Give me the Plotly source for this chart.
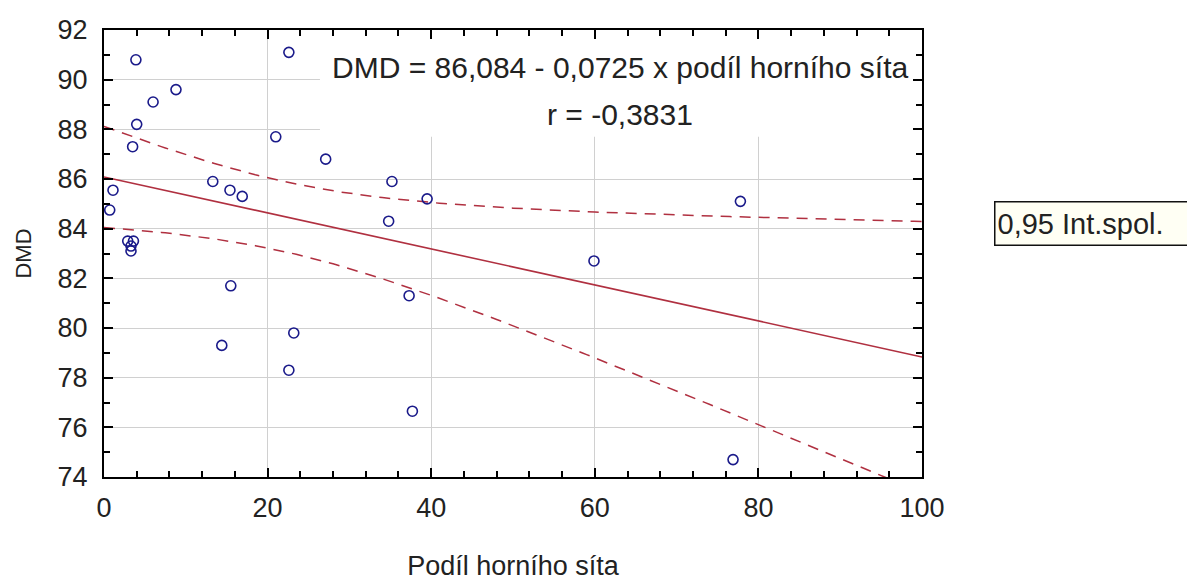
import numpy as np
import plotly.graph_objects as go

# Podíl horního síta (%) and DMD (%) for each sample
podil = [0.7, 1.1, 3.9, 4.0, 3.5, 2.9, 3.6, 3.3, 3.3, 6.0, 8.8, 13.3, 15.4, 16.9,
         15.5, 14.4, 21.0, 22.6, 22.6, 23.2, 27.1, 35.2, 34.8, 39.5, 37.3, 37.7,
         59.9, 77.8, 76.9]
dmd = [84.75, 85.55, 90.8, 88.2, 87.3, 83.5, 83.5, 83.3, 83.1, 89.1, 89.6, 85.9,
       85.55, 85.3, 81.7, 79.3, 87.7, 91.1, 78.3, 79.8, 86.8, 85.9, 84.3, 85.2,
       81.3, 76.65, 82.7, 85.1, 74.7]

# Regression coefficients as printed on the chart
intercept = 86.084
slope = -0.0725
r_value = "-0,3831"

# 95% confidence band for the regression mean
xa = np.array(podil)
ya = np.array(dmd)
n = len(xa)
resid = ya - (intercept + slope * xa)
s = np.sqrt(np.sum(resid ** 2) / (n - 2))
sxx = np.sum((xa - xa.mean()) ** 2)
t_crit = 2.052
xs = np.linspace(0, 100, 201)
fit = intercept + slope * xs
half = t_crit * s * np.sqrt(1 / n + (xs - xa.mean()) ** 2 / sxx)

line_col = "#b03040"
font_fam = "Arial, Liberation Sans, sans-serif"
txt_col = "#222222"

fig = go.Figure()
fig.add_trace(go.Scatter(x=xs, y=fit + half, mode="lines",
                         line=dict(color=line_col, width=1.5, dash="11px,8px"),
                         hoverinfo="skip"))
fig.add_trace(go.Scatter(x=xs, y=fit - half, mode="lines",
                         line=dict(color=line_col, width=1.5, dash="11px,8px"),
                         hoverinfo="skip"))
fig.add_trace(go.Scatter(x=xs, y=fit, mode="lines",
                         line=dict(color=line_col, width=1.6)))
fig.add_trace(go.Scatter(x=podil, y=dmd, mode="markers",
                         marker=dict(symbol="circle-open", size=10,
                                     color="#1a1a8a", line=dict(width=1.6))))

# White panel behind the equation text hides the grid there
fig.add_shape(type="rect", xref="x", yref="y", x0=26.4, x1=100, y0=87.7, y1=92,
              fillcolor="white", line=dict(width=0), layer="between")

fig.add_annotation(x=63.1, y=90.47, xref="x", yref="y", showarrow=False,
                   text="DMD = 86,084 - 0,0725 x podíl horního síta",
                   font=dict(family=font_fam, size=30, color=txt_col))
fig.add_annotation(x=63.1, y=88.6, xref="x", yref="y", showarrow=False,
                   text="r = " + r_value,
                   font=dict(family=font_fam, size=30, color=txt_col))

# Legend entry for the confidence band
fig.add_annotation(x=1.088, y=0.568, xref="paper", yref="paper",
                   xanchor="left", yanchor="middle", showarrow=False,
                   text="0,95 Int.spol.", align="left", width=200, height=38,
                   bgcolor="#fffff4", bordercolor="#111111", borderwidth=1.5,
                   borderpad=2,
                   font=dict(family=font_fam, size=29, color=txt_col))

axis_common = dict(showline=True, linecolor="black", linewidth=2, mirror="allticks",
                   ticks="inside", ticklen=9, tickwidth=2, tickcolor="black",
                   showgrid=True, gridcolor="#d0d0d0", gridwidth=1, zeroline=False,
                   automargin=False,
                   tickfont=dict(family=font_fam, size=27, color=txt_col))

fig.update_xaxes(range=[0, 100], tickmode="linear", tick0=0, dtick=20,
                 ticklabelstandoff=6,
                 minor=dict(dtick=4, tick0=0, ticks="inside", ticklen=6,
                            tickcolor="black", tickwidth=1.5, showgrid=False),
                 title=dict(text="Podíl horního síta", standoff=38,
                            font=dict(family=font_fam, size=27, color=txt_col)),
                 **axis_common)
fig.update_yaxes(range=[74, 92], tickmode="linear", tick0=74, dtick=2,
                 ticklabelstandoff=9,
                 minor=dict(dtick=1, tick0=74, ticks="inside", ticklen=6,
                            tickcolor="black", tickwidth=1.5, showgrid=False),
                 title=dict(text="DMD", standoff=20,
                            font=dict(family=font_fam, size=22, color=txt_col)),
                 **axis_common)

fig.update_layout(width=1187, height=581, showlegend=False,
                  margin=dict(l=104, r=265, t=30, b=104),
                  paper_bgcolor="white", plot_bgcolor="white")

fig.write_html("out.html")
